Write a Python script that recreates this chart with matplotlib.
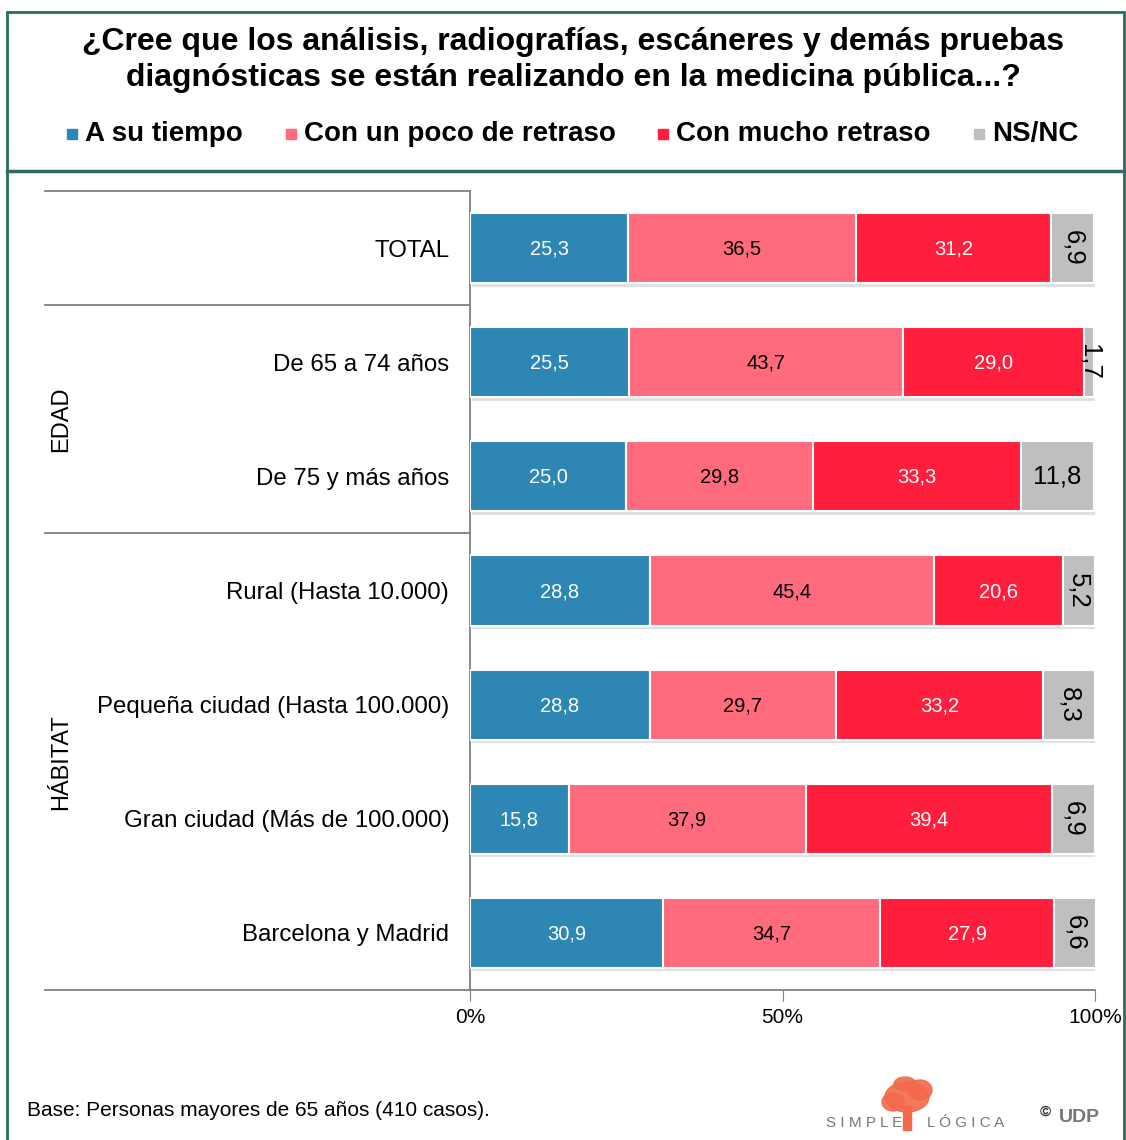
import numpy as np
import matplotlib
matplotlib.use("Agg")
import matplotlib.pyplot as plt
from matplotlib.patches import Rectangle, Ellipse
from matplotlib.transforms import blended_transform_factory
import matplotlib.patheffects as pe

plt.rcParams['font.family'] = ['Liberation Sans', 'DejaVu Sans']

categories = ['TOTAL', 'De 65 a 74 años', 'De 75 y más años', 'Rural (Hasta 10.000)',
              'Pequeña ciudad (Hasta 100.000)', 'Gran ciudad (Más de 100.000)', 'Barcelona y Madrid']
series_names = ['A su tiempo', 'Con un poco de retraso', 'Con mucho retraso', 'NS/NC']
a_tiempo = [25.3, 25.5, 25.0, 28.8, 28.8, 15.8, 30.9]
poco_retraso = [36.5, 43.7, 29.8, 45.4, 29.7, 37.9, 34.7]
mucho_retraso = [31.2, 29.0, 33.3, 20.6, 33.2, 39.4, 27.9]
ns_nc = [6.9, 1.7, 11.8, 5.2, 8.3, 6.9, 6.6]
groups = ['EDAD', 'HÁBITAT']
group_rows = [(1, 2), (3, 6)]

colors = ['#2E86B4', '#FF6B7D', '#FF1F3D', '#BFBFBF']
text_colors = ['white', 'black', 'white', 'black']
series = [a_tiempo, poco_retraso, mucho_retraso, ns_nc]

fig = plt.figure(figsize=(11.26, 11.40), dpi=100)
ax = fig.add_axes([470/1126, 1-990/1140, 625/1126, 799/1140])

y = np.arange(len(categories))
left = np.zeros(len(categories))
shadow = [pe.SimplePatchShadow(offset=(1.5, -2.5), shadow_rgbFace='#999999', alpha=0.3), pe.Normal()]
for k, vals in enumerate(series):
    vals = np.array(vals)
    bars = ax.barh(y, vals, left=left, height=0.615, color=colors[k],
                   edgecolor='white', linewidth=1.5, zorder=3)
    for b in bars:
        b.set_path_effects(shadow)
    for i, v in enumerate(vals):
        cx = left[i] + v / 2
        lab = f'{v:.1f}'.replace('.', ',')
        if k == 3:
            if v >= 10:
                ax.text(cx, y[i], lab, ha='center', va='center', fontsize=18.5,
                        color=text_colors[k], zorder=5)
            else:
                ax.text(cx, y[i], lab, ha='center', va='center', fontsize=18.5,
                        rotation=-90, color=text_colors[k], zorder=5)
        else:
            ax.text(cx, y[i] + 0.01, lab, ha='center', va='center', fontsize=14.5,
                    color=text_colors[k], zorder=5)
    left = left + vals

ax.set_xlim(0, 100)
ax.set_ylim(len(categories) - 0.5, -0.5)
ax.set_xticks([0, 50, 100])
ax.set_xticklabels(['0%', '50%', '100%'], fontsize=15)
ax.set_yticks(y)
ax.set_yticklabels(categories, fontsize=17.3)
ax.tick_params(axis='y', length=0, pad=15)
ax.tick_params(axis='x', length=8, color='#808080', pad=5, direction='out')
for s in ['top', 'right', 'bottom']:
    ax.spines[s].set_visible(False)
ax.spines['left'].set_color('#808080')
ax.spines['left'].set_linewidth(1.3)

# table lines on the left and bottom axis line
tr = blended_transform_factory(ax.transAxes, ax.transData)
x0 = (45 - 470) / 625
for yl in [-0.5, 0.5, 2.5]:
    ax.plot([x0, 0], [yl, yl], color='#808080', lw=1.3, transform=tr, clip_on=False)
ax.plot([x0, 1], [6.5, 6.5], color='#808080', lw=1.3, transform=tr, clip_on=False)
gx = (61 - 470) / 625
for g, (r0, r1) in zip(groups, group_rows):
    ax.text(gx, (r0 + r1) / 2, g, rotation=90, ha='center', va='center',
            fontsize=17, transform=tr)

# frame
fig.patches.append(Rectangle((7/1126, -0.01), 1117/1126, 1.01 - 12/1140, transform=fig.transFigure,
                             fill=False, edgecolor='#2D6A5F', lw=2))
fig.add_artist(plt.Line2D([7/1126, 1124/1126], [1-171/1140, 1-171/1140], transform=fig.transFigure,
                          color='#2D6A5F', lw=2.5))

fig.text(573/1126, 1-60/1140, '¿Cree que los análisis, radiografías, escáneres y demás pruebas\n'
         'diagnósticas se están realizando en la medicina pública...?',
         ha='center', va='center', fontsize=23, fontweight='bold', linespacing=1.22)

leg_x = [67, 286, 658, 974]
for name, c, lx in zip(series_names, colors, leg_x):
    fig.patches.append(Rectangle((lx/1126, 1-139/1140), 10/1126, 10/1140,
                                 transform=fig.transFigure, color=c))
    fig.text((lx + 18)/1126, 1-134/1140, name, ha='left', va='center',
             fontsize=20, fontweight='bold')

fig.text(27/1126, 1-1110/1140, 'Base: Personas mayores de 65 años (410 casos).',
         ha='left', va='center', fontsize=15)

# logo approximation
fig.text(826/1126, 1-1123/1140, 'S I M P L E', ha='left', va='center', fontsize=11, color='#777777')
fig.text(927/1126, 1-1123/1140, 'L Ó G I C A', ha='left', va='center', fontsize=11, color='#777777')
for (ex, ey, w, h) in [(907, 1097, 44, 30), (893, 1102, 22, 18), (920, 1090, 24, 20), (905, 1084, 22, 14)]:
    fig.patches.append(Ellipse((ex/1126, 1-ey/1140), w/1126, h/1140, transform=fig.transFigure,
                               color='#F26A4B', alpha=0.9))
fig.patches.append(Rectangle((903/1126, 1-1130/1140), 8/1126, 24/1140, transform=fig.transFigure,
                             color='#F26A4B'))
fig.text(1040/1126, 1-1112/1140, '©', ha='left', va='center', fontsize=11, fontweight='bold', color='#333333')
fig.text(1059/1126, 1-1117/1140, 'UDP', ha='left', va='center', fontsize=14, fontweight='bold', color='#777777')

fig.savefig('out.png', dpi=100)
